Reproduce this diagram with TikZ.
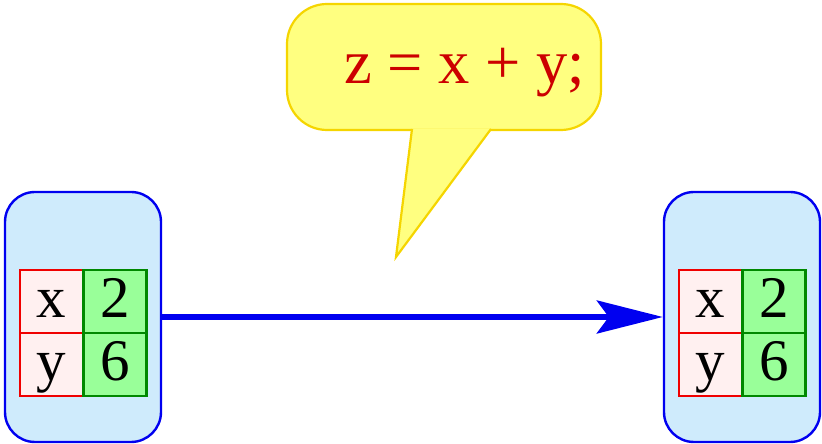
\documentclass[tikz,border=0pt]{standalone}
\usepackage{fontspec}
\setmainfont{Liberation Serif}
\usetikzlibrary{arrows.meta}
\definecolor{boxfill}{HTML}{CFEBFC}
\definecolor{boxline}{HTML}{0000F0}
\definecolor{keyfill}{HTML}{FFF0F0}
\definecolor{keyline}{HTML}{F00000}
\definecolor{valfill}{HTML}{99FF99}
\definecolor{valline}{HTML}{008800}
\definecolor{callfill}{HTML}{FFFF80}
\definecolor{callline}{HTML}{F5D500}
\definecolor{codecol}{HTML}{CC0000}
\tikzset{
  x=1pt, y=1pt,
  statebox/.style={draw=boxline, fill=boxfill, line width=2.4pt, rounded corners=30pt,
    minimum width=156pt, minimum height=250pt, inner sep=0pt},
  keycell/.style={draw=keyline, fill=keyfill, line width=2.2pt, minimum width=63pt, minimum height=63pt, inner sep=0pt},
  valcell/.style={draw=valline, fill=valfill, line width=2.2pt, minimum width=63pt, minimum height=63pt, inner sep=0pt},
  celltext/.style={font=\fontsize{59}{59}\selectfont, inner sep=0pt, anchor=base},
  flow/.style={draw=boxline, line width=5.5pt, -{Stealth[length=66pt,width=33pt,inset=12pt]}},
}
\begin{document}
\begin{tikzpicture}
\useasboundingbox (0,0) rectangle (822,444);
% state boxes
\node[statebox] (lb) at (83,127) {};
\node[statebox] (rb) at (742,127) {};
% left table
\node[keycell] (lk1) at (51.5,142.5) {};
\node[valcell] (lv1) at (115,142.5) {};
\node[keycell] (lk2) at (51.5,79.5) {};
\node[valcell] (lv2) at (115,79.5) {};
\node[celltext] (lk1t) at (51.5,126) {x};
\node[celltext] (lv1t) at (115,126) {2};
\node[celltext] (lk2t) at (51.5,63) {y};
\node[celltext] (lv2t) at (115,63) {6};
% right table
\node[keycell] (rk1) at (710.5,142.5) {};
\node[valcell] (rv1) at (774,142.5) {};
\node[keycell] (rk2) at (710.5,79.5) {};
\node[valcell] (rv2) at (774,79.5) {};
\node[celltext] (rk1t) at (710.5,126) {x};
\node[celltext] (rv1t) at (774,126) {2};
\node[celltext] (rk2t) at (710.5,63) {y};
\node[celltext] (rv2t) at (774,63) {6};
% arrow
\draw[flow] (lb.east) -- (rb.west);
% callout
\coordinate (pa) at (412,315);
\coordinate (pb) at (491,315);
\coordinate (tip) at (396,187);
\node[draw=callline, fill=callfill, line width=2.2pt, rounded corners=40pt,
  minimum width=314pt, minimum height=126pt, inner sep=0pt] (call) at (444,377) {};
\fill[callfill] (pa) -- (tip) -- (pb) -- cycle;
\draw[callline, line width=2.2pt, line join=miter] (pa) -- (tip) -- (pb);
\node[font=\fontsize{62.5}{62.5}\selectfont, text=codecol, inner sep=0pt, anchor=base west] (code) at (344,360) {z = x + y;};
\end{tikzpicture}
\end{document}
